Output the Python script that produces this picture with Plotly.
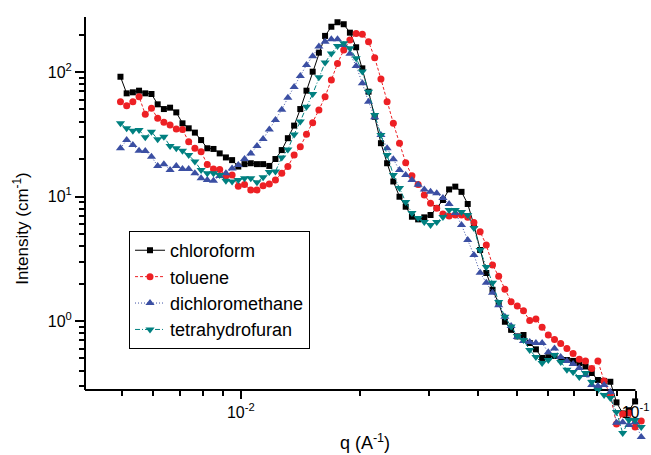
import math
import plotly.graph_objects as go

# Scattering vector q (A^-1), shared by all four solvents
q = [0.004956, 0.005139, 0.005328, 0.005524, 0.005728, 0.005939, 0.006158, 0.006385, 0.006620, 0.006864,
     0.007117, 0.007379, 0.007651, 0.007933, 0.008225, 0.008528, 0.008842, 0.009168, 0.009506, 0.009856,
     0.01022, 0.01060, 0.01099, 0.01139, 0.01181, 0.01224, 0.01270, 0.01316, 0.01365, 0.01415,
     0.01467, 0.01521, 0.01577, 0.01635, 0.01696, 0.01758, 0.01823, 0.01890, 0.01960, 0.02032,
     0.02107, 0.02184, 0.02265, 0.02348, 0.02435, 0.02524, 0.02617, 0.02714, 0.02814, 0.02917,
     0.03025, 0.03136, 0.03252, 0.03371, 0.03495, 0.03624, 0.03758, 0.03896, 0.04040, 0.04188,
     0.04343, 0.04502, 0.04668, 0.04840, 0.05018, 0.05203, 0.05395, 0.05594, 0.05800, 0.06013,
     0.06235, 0.06464, 0.06702, 0.06949, 0.07205, 0.07471, 0.07746, 0.08031, 0.08327, 0.08634,
     0.08951, 0.09281, 0.09623, 0.09977, 0.1034]

# Scattered intensity (cm^-1) for each solvent
chloroform = [91.6, 67.4, 68.7, 70.8, 67.4, 66.6, 55.0, 50.4, 51.7, 47.4,
              38.7, 35.3, 32.6, 28.4, 24.4, 24.1, 22.2, 20.6, 19.6, 17.4,
              18.2, 18.5, 18.2, 18.2, 17.6, 20.0, 23.6, 29.4, 37.1, 50.4,
              70.8, 100.6, 143, 195, 231, 251, 242, 207, 158, 107,
              69.5, 43.7, 26.8, 18.5, 13.2, 9.96, 8.28, 6.88, 6.55, 6.80,
              7.10, 8.09, 9.37, 11.4, 12.0, 10.9, 8.71, 5.90, 3.72, 2.43,
              1.78, 1.39, 0.986, 0.849, 0.752, 0.772, 0.666, 0.592, 0.505, 0.512,
              0.524, 0.492, 0.486, 0.478, 0.460, 0.431, 0.382, 0.336, 0.330, 0.325,
              0.222, 0.181, 0.192, 0.226, None]

toluene = [57.7, 53.6, 57.7, 63.3, 45.8, 51.1, 42.5, 39.4, 37.5, 34.8,
           34.6, 27.5, 24.4, 22.9, 18.1, 16.6, 16.5, 14.6, 14.9, 12.1,
           12.5, 11.3, 11.3, 12.2, 12.6, 13.6, 15.4, 17.4, 21.5, 25.1,
           31.6, 39.2, 49.5, 63.3, 86.2, 117, 150, 181, 204, 201,
           175, 130, 87.9, 57.7, 38.7, 26.8, 18.7, 14.7, 12.5, 10.3,
           8.81, 8.05, 7.23, 6.97, 7.10, 7.10, 6.80, 6.18, 5.21, 4.08,
           2.82, 2.29, 1.80, 1.43, 1.32, 1.21, 1.007, 1.038, 0.889, 0.772,
           0.711, 0.661, 0.601, 0.547, 0.492, 0.478, 0.416, 0.477, 0.330, 0.254,
           0.149, 0.179, 0.182, 0.141, 0.157]

dichloromethane = [24.4, 28.4, 25.9, 23.3, 23.2, 20.9, 17.6, 18.2, 16.3, 17.6,
                   16.6, 16.6, 15.4, 14.0, 13.6, 13.4, 14.6, 15.4, 16.8, 17.9,
                   20.0, 22.2, 25.4, 29.0, 34.6, 41.2, 49.8, 62.1, 75.7, 92.9,
                   114, 134, 160, 175, 183, 183, 165, 140, 112, 81.2,
                   57.7, 43.3, 31.2, 24.4, 19.9, 16.3, 14.9, 13.6, 12.4, 11.4,
                   10.9, 10.6, 9.73, 8.71, 7.37, 5.90, 4.47, 3.39, 2.44, 2.03,
                   1.69, 1.34, 1.08, 0.912, 0.745, 0.691, 0.678, 0.666, 0.666, 0.560,
                   0.601, 0.514, 0.477, 0.451, 0.419, 0.368, 0.306, 0.300, 0.306, 0.269,
                   0.152, 0.154, 0.146, 0.154, 0.117]

tetrahydrofuran = [38.7, 35.3, 33.8, 34.2, 29.9, 33.1, 28.8, 30.2, 25.4, 24.4,
                   23.3, 21.5, 19.1, 16.3, 15.4, 15.4, 14.9, 13.4, 13.2, 13.6,
                   14.0, 14.0, 13.0, 14.3, 15.7, 15.9, 20.6, 23.8, 31.5, 40.0,
                   52.6, 66.6, 90.7, 119, 141, 162, 170, 155, 129, 101,
                   69.5, 45.2, 31.2, 21.5, 14.9, 11.7, 9.03, 7.37, 6.72, 6.24,
                   5.90, 6.24, 6.84, 7.79, 7.79, 7.51, 7.10, 5.58, 3.72, 2.71,
                   2.03, 1.42, 1.08, 0.904, 0.758, 0.704, 0.585, 0.514, 0.460, 0.486,
                   0.533, 0.469, 0.405, 0.389, 0.355, 0.382, 0.324, 0.279, 0.254, 0.241,
                   0.186, 0.126, 0.160, 0.160, 0.141]

# Tick labels
x_major = [0.01, 0.1]
x_major_text = ["10<sup>-2</sup>", "10<sup>-1</sup>"]
x_minor = [0.005, 0.006, 0.007, 0.008, 0.009,
           0.02, 0.03, 0.04, 0.05, 0.06, 0.07, 0.08, 0.09]
y_major = [1, 10, 100]
y_major_text = ["10<sup>0</sup>", "10<sup>1</sup>", "10<sup>2</sup>"]
y_minor = [0.3, 0.4, 0.5, 0.6, 0.7, 0.8, 0.9,
           2, 3, 4, 5, 6, 7, 8, 9,
           20, 30, 40, 50, 60, 70, 80, 90, 200]

# Axis extents: the drawn axes run from X_START to X_END and Y_END to Y_TOP,
# while the plotting area extends a little further so points past the axes stay visible
X_START, X_END, X_VIEW_END = 0.00403, 0.1, 0.1057
Y_END, Y_TOP, Y_VIEW_BOTTOM = 0.2791, 276.6, 0.1107

FONT = "Liberation Sans, Arial, sans-serif"

series = [
    ("chloroform", chloroform, "#000000", "square", 6, "solid"),
    ("toluene", toluene, "#ED2024", "circle", 7, "3px,2px"),
    ("dichloromethane", dichloromethane, "#3B4FA3", "triangle-up", 8, "1px,2px"),
    ("tetrahydrofuran", tetrahydrofuran, "#008080", "triangle-down", 8, "5px,2px,1px,2px"),
]

fig = go.Figure()
for name, vals, color, symbol, size, dash in series:
    fig.add_trace(go.Scatter(
        x=q, y=vals, name=name, mode="lines+markers",
        line=dict(color=color, width=1, dash=dash),
        marker=dict(symbol=symbol, size=size, color=color, line=dict(width=0)),
        cliponaxis=False,
    ))

xr = [math.log10(X_START), math.log10(X_VIEW_END)]
yr = [math.log10(Y_VIEW_BOTTOM), math.log10(Y_TOP)]
x_axis_pos = (math.log10(Y_END) - yr[0]) / (yr[1] - yr[0])
x_axis_end = (math.log10(X_END) - xr[0]) / (xr[1] - xr[0])

axis_line = dict(color="black", width=2)
fig.add_shape(type="line", xref="paper", yref="paper", x0=0, x1=x_axis_end,
              y0=x_axis_pos, y1=x_axis_pos, line=axis_line, layer="below")
fig.add_shape(type="line", xref="paper", yref="paper", x0=0, x1=0,
              y0=x_axis_pos, y1=1, line=axis_line, layer="below")

tick_font = dict(family=FONT, size=16, color="black")

fig.update_layout(
    width=651, height=455,
    margin=dict(l=85, r=6, t=17, b=15),
    paper_bgcolor="white", plot_bgcolor="white",
    font=dict(family=FONT, color="black"),
    showlegend=True,
    legend=dict(
        x=0.0786, y=0.494, xanchor="left", yanchor="top",
        bgcolor="white", bordercolor="black", borderwidth=1,
        font=dict(family=FONT, size=18, color="black"),
        tracegroupgap=0,
    ),
    xaxis=dict(
        type="log", range=xr, anchor="free", position=x_axis_pos,
        showline=False, showgrid=False, zeroline=False,
        tickmode="array", tickvals=x_major, ticktext=x_major_text,
        ticks="outside", ticklen=8, tickwidth=1.5, tickcolor="black",
        tickfont=tick_font,
        minor=dict(tickvals=x_minor, ticks="outside", ticklen=5,
                   tickwidth=1.5, tickcolor="black", showgrid=False),
        title=dict(text="q (A<sup>-1</sup>)", font=dict(family=FONT, size=18),
                   standoff=16),
        automargin=False,
    ),
    yaxis=dict(
        type="log", range=yr,
        showline=False, showgrid=False, zeroline=False,
        tickmode="array", tickvals=y_major, ticktext=y_major_text,
        ticks="outside", ticklen=9, tickwidth=1.5, tickcolor="black",
        tickfont=tick_font,
        minor=dict(tickvals=y_minor, ticks="outside", ticklen=5,
                   tickwidth=1.5, tickcolor="black", showgrid=False),
        title=dict(text="Intensity (cm<sup>-1</sup>)", font=dict(family=FONT, size=17),
                   standoff=14),
        automargin=False,
    ),
)

fig.write_html("out.html")
